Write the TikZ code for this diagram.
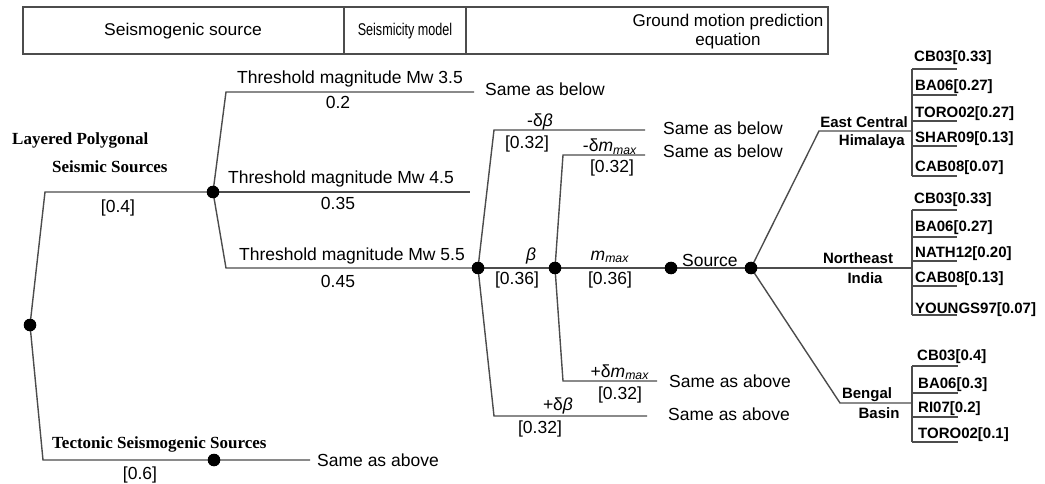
\documentclass[tikz,border=0pt]{standalone}
\usepackage{graphicx}
\usepackage{fontspec}
\setmainfont{Liberation Sans}
\newfontfamily\serifb{Liberation Serif}
\begin{document}
\begin{tikzpicture}[x=1pt,y=-1pt,
  ln/.style={draw=black!70,line width=1.4pt},
  dot/.style={circle,fill=black,inner sep=0pt,minimum size=12pt},
  lbl/.style={inner sep=0pt,anchor=base,font=\fontsize{17.5}{20}\selectfont},
  lblw/.style={lbl,anchor=base west},
  hd/.style={inner sep=0pt,align=center,font=\fontsize{17}{19}\selectfont},
  reg/.style={inner sep=0pt,font=\bfseries\fontsize{15}{18}\selectfont},
  gm/.style={inner sep=0pt,anchor=base west,font=\bfseries\fontsize{15}{18}\selectfont},
  sb/.style={inner sep=0pt,anchor=base west,font=\serifb\bfseries\fontsize{17}{20}\selectfont}]
\useasboundingbox (0,0) rectangle (1045,484);
% header
\draw[ln] (23,7) rectangle (828,54);
\draw[ln] (344,7) -- (344,54);
\draw[ln] (466,7) -- (466,54);
\node[hd] (h1) at (183,31) {\scalebox{1.03}[1]{Seismogenic source}};
\node[hd] (h2) at (405,31) {\scalebox{0.74}[1]{Seismicity model}};
\node[hd] (h3) at (728,31.5) {Ground motion prediction\\equation};
% nodes
\node[dot] (root) at (30,325) {};
\node[dot] (d1) at (213,192) {};
\node[dot] (d2) at (214,460) {};
\node[dot] (d3) at (478,268) {};
\node[dot] (d4) at (555,268) {};
\node[dot] (d5) at (671,268) {};
\node[dot] (d6) at (751,268) {};
\coordinate (a1) at (45,192);
\coordinate (b1) at (43,460);
\coordinate (b2) at (310,460);
\coordinate (t35a) at (226,92);
\coordinate (t35b) at (474,92);
\coordinate (t45b) at (470,192);
\coordinate (t55a) at (226,268);
\coordinate (bu1) at (494,130);
\coordinate (bu2) at (645,130);
\coordinate (bd1) at (494,416);
\coordinate (bd2) at (647,416);
\coordinate (mu1) at (563,155);
\coordinate (mu2) at (645,155);
\coordinate (md1) at (563,381);
\coordinate (md2) at (657,381);
\coordinate (e1) at (819,131);
\coordinate (e2) at (912,131);
\coordinate (n2) at (912,268);
\coordinate (g1) at (840,403);
\coordinate (g2) at (912,403);
% connectors
\draw[ln] (root.center) -- (a1) -- (d1.center);
\draw[ln] (root.center) -- (b1) -- (d2.center) -- (b2);
\draw[ln] (d1.center) -- (t35a) -- (t35b);
\draw[ln] (d1.center) -- (t45b);
\draw[ln] (d1.center) -- (t55a) -- (d3.center);
\draw[ln] (d3.center) -- (bu1) -- (bu2);
\draw[ln] (d3.center) -- (bd1) -- (bd2);
\draw[ln] (d3.center) -- (d4.center);
\draw[ln] (d4.center) -- (mu1) -- (mu2);
\draw[ln] (d4.center) -- (md1) -- (md2);
\draw[ln] (d4.center) -- (d5.center) -- (d6.center);
\draw[ln] (d6.center) -- (e1) -- (e2);
\draw[ln] (d6.center) -- (n2);
\draw[ln] (d6.center) -- (g1) -- (g2);
% dots on top
\foreach \d in {root,d1,d2,d3,d4,d5,d6} \fill (\d) circle (6.3pt);
% labels: source
\node[sb] (lp1) at (12,145) {Layered Polygonal};
\node[sb] (lp2) at (52,173) {Seismic Sources};
\node[lbl] (w04) at (118,212) {[0.4]};
\node[sb] (ts) at (52,448) {Tectonic Seismogenic Sources};
\node[lbl] (w06) at (140,479) {[0.6]};
\node[lblw] (sa0) at (317,466) {Same as above};
\node[lbl] (m35) at (350,84) {Threshold magnitude Mw 3.5};
\node[lbl] (w35) at (338,109) {0.2};
\node[lblw] (sb0) at (485,96) {Same as below};
\node[lbl] (m45) at (341,184) {Threshold magnitude Mw 4.5};
\node[lbl] (w45) at (338,210) {0.35};
\node[lbl] (m55) at (352,260) {Threshold magnitude Mw 5.5};
\node[lbl] (w55) at (338,287) {0.45};
% seismicity model
\node[lbl] (mb) at (540,127) {-δ\textit{β}};
\node[lbl] (wmb) at (527,149) {[0.32]};
\node[lblw] (sb1) at (663,135) {Same as below};
\node[lbl] (mm) at (610,152) {-δ\textit{m}\textsubscript{\textit{max}}};
\node[lbl] (wmm) at (612,173) {[0.32]};
\node[lblw] (sb2) at (663,158) {Same as below};
\node[lbl] (b0) at (531,260) {\textit{β}};
\node[lbl] (wb0) at (517,284) {[0.36]};
\node[lbl] (m0) at (610,260) {\textit{m}\textsubscript{\textit{max}}};
\node[lbl] (wm0) at (610,284) {[0.36]};
\node[lblw] (src) at (682,266) {Source};
\node[lbl] (pm) at (620,377) {+δ\textit{m}\textsubscript{\textit{max}}};
\node[lbl] (wpm) at (620,399) {[0.32]};
\node[lblw] (sa1) at (669,387) {Same as above};
\node[lbl] (pb) at (558,410) {+δ\textit{β}};
\node[lbl] (wpb) at (540,433) {[0.32]};
\node[lblw] (sa2) at (668,420) {Same as above};
% regions
\node[reg,anchor=base east] (ec1) at (908,128) {East Central};
\node[reg,anchor=base east] (ec2) at (905,146) {Himalaya};
\node[reg,anchor=base] (ne1) at (858,263) {Northeast};
\node[reg,anchor=base] (ne2) at (865,283) {India};
\node[reg,anchor=base] (bb1) at (867,398) {Bengal};
\node[reg,anchor=base] (bb2) at (879,418) {Basin};
% GMPE: East Central Himalaya
\draw[ln] (912,69) -- (912,176);
\foreach \y in {69,95,121,146,176} \draw[ln] (912,\y) -- (957,\y);
\node[gm] (ec-a) at (914,62) {CB03[0.33]};
\node[gm] (ec-b) at (915,91) {BA06[0.27]};
\node[gm] (ec-c) at (915,118) {TORO02[0.27]};
\node[gm] (ec-d) at (915,143) {SHAR09[0.13]};
\node[gm] (ec-e) at (915,172) {CAB08[0.07]};
% GMPE: Northeast India
\draw[ln] (912,210) -- (912,315);
\foreach \y in {210,237,261,286,315} \draw[ln] (912,\y) -- (957,\y);
\node[gm] (ne-a) at (914,204) {CB03[0.33]};
\node[gm] (ne-b) at (915,232) {BA06[0.27]};
\node[gm] (ne-c) at (915,257) {NATH12[0.20]};
\node[gm] (ne-d) at (915,282) {CAB08[0.13]};
\node[gm] (ne-e) at (915,313) {YOUNGS97[0.07]};
% GMPE: Bengal Basin
\draw[ln] (912,366) -- (912,442);
\foreach \y in {366,393,417,442} \draw[ln] (912,\y) -- (958,\y);
\node[gm] (bb-a) at (917,360) {CB03[0.4]};
\node[gm] (bb-b) at (918,388) {BA06[0.3]};
\node[gm] (bb-c) at (918,412) {RI07[0.2]};
\node[gm] (bb-d) at (918,438) {TORO02[0.1]};
\end{tikzpicture}
\end{document}
